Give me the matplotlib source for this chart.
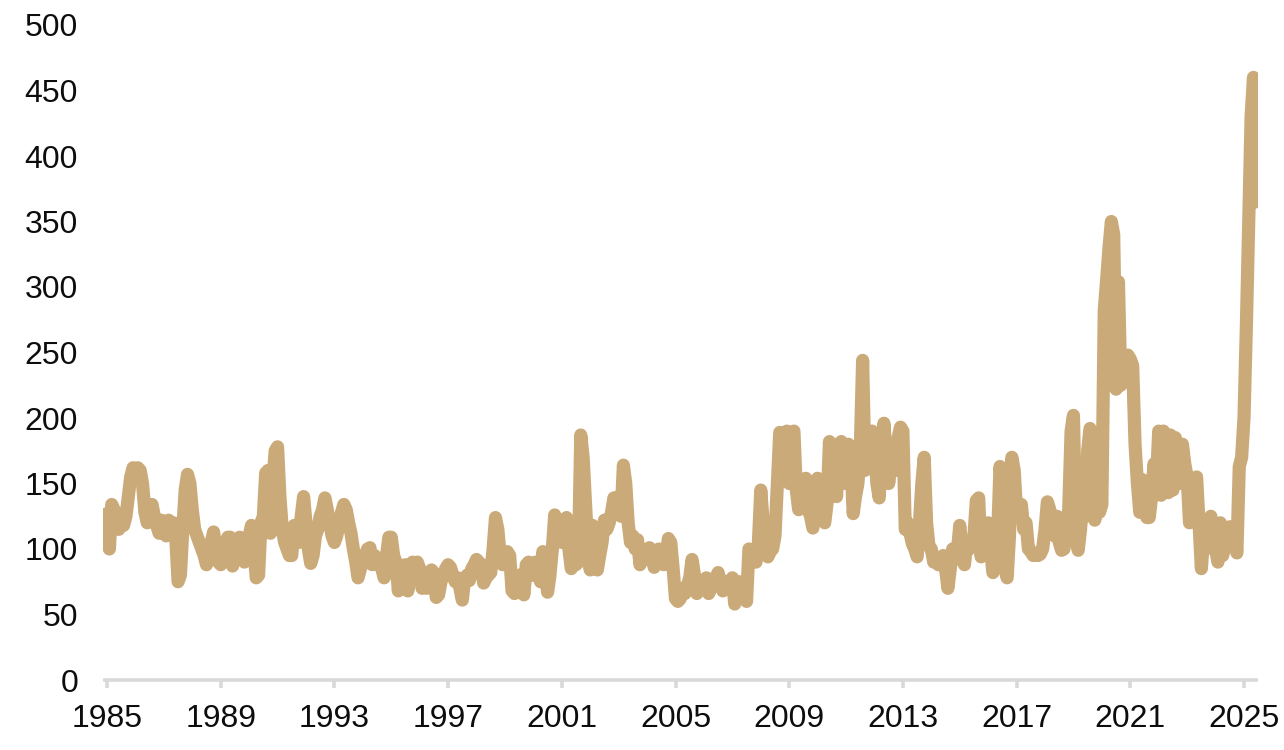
import numpy as np
import matplotlib
matplotlib.use("Agg")
import matplotlib.pyplot as plt

# Monthly values, January 1985 onward
values_1985_1994 = [
    127, 100, 134, 130, 118, 115, 120, 118, 125, 140, 155, 162,
    158, 162, 160, 150, 128, 120, 130, 134, 125, 118, 112, 122,
    120, 110, 122, 115, 120, 110, 75, 80, 115, 145, 157, 150,
    130, 115, 110, 105, 100, 95, 88, 95, 105, 113, 100, 90,
    88, 100, 105, 109, 109, 87, 95, 100, 109, 95, 90, 100,
    110, 118, 100, 78, 80, 120, 125, 158, 160, 112, 150, 175,
    178, 140, 115, 105, 100, 95, 95, 118, 110, 105, 125, 140,
    120, 100, 89, 95, 110, 115, 125, 130, 139, 130, 120, 110,
    105, 110, 120, 128, 134, 130, 120, 112, 100, 90, 78, 85,
    90, 95, 100, 101, 88, 95, 92, 90, 85, 78, 95, 109,
]
values_1995_2004 = [
    109, 95, 90, 68, 85, 70, 88, 68, 80, 90, 88, 90,
    85, 70, 72, 70, 78, 84, 82, 63, 65, 75, 80, 85,
    88, 86, 80, 75, 78, 70, 61, 78, 80, 76, 85, 88,
    92, 90, 88, 74, 78, 80, 82, 100, 124, 115, 95, 88,
    97, 98, 95, 68, 66, 72, 80, 75, 65, 88, 90, 80,
    80, 90, 85, 75, 98, 85, 67, 80, 100, 126, 120, 110,
    105, 118, 124, 100, 85, 92, 88, 90, 187, 170, 135, 100,
    84, 118, 110, 84, 95, 105, 122, 115, 120, 128, 139, 130,
    140, 125, 164, 150, 120, 105, 110, 100, 107, 88, 100, 95,
    92, 101, 95, 86, 92, 100, 95, 88, 95, 108, 105, 85,
]
values_2005_2014 = [
    62, 60, 62, 70, 66, 72, 78, 92, 80, 66, 72, 75,
    72, 78, 66, 70, 75, 78, 82, 75, 68, 72, 75, 70,
    78, 58, 68, 75, 70, 65, 60, 100, 95, 98, 90, 105,
    145, 120, 100, 94, 98, 100, 110, 150, 189, 185, 188, 190,
    150, 185, 190, 145, 130, 140, 135, 154, 130, 125, 116, 140,
    154, 140, 127, 120, 135, 182, 150, 175, 140, 180, 182, 160,
    150, 180, 170, 127, 140, 150, 175, 244, 160, 185, 175, 190,
    185, 150, 139, 175, 196, 170, 150, 165, 175, 160, 185, 193,
    190, 115, 120, 112, 104, 100, 94, 120, 150, 170, 120, 102,
    100, 90, 92, 88, 90, 95, 85, 70, 85, 100, 92, 98,
]
values_2015_2025 = [
    118, 100, 88, 105, 100, 105, 110, 137, 139, 94, 105, 110,
    120, 100, 82, 90, 110, 163, 140, 85, 78, 110, 170, 160,
    128, 125, 134, 115, 120, 100, 98, 95, 97, 95, 96, 100,
    115, 136, 130, 120, 110, 125, 105, 99, 100, 120, 130, 190,
    202, 110, 99, 115, 140, 125, 175, 192, 185, 122, 140, 128,
    134, 282, 305, 330, 350, 340, 222, 304, 225, 235, 240, 248,
    245, 240, 180, 150, 128, 153, 135, 124, 124, 140, 165, 150,
    190, 141, 190, 150, 143, 187, 145, 185, 160, 150, 180, 165,
    155, 120, 130, 145, 155, 120, 85, 110, 100, 110, 125, 110,
    100, 90, 120, 95, 105, 112, 117, 110, 105, 97, 163, 170,
    200, 270, 350, 430, 460, 365,
]

start_year = 1985
tick_years = list(range(1985, 2026, 4))
y_ticks = list(range(0, 501, 50))

values = np.array(values_1985_1994 + values_1995_2004 + values_2005_2014 + values_2015_2025, dtype=float)
dates = start_year + np.arange(len(values)) / 12.0

LINE_COLOR = "#CBAA7A"
AXIS_COLOR = "#D9D9D9"
FONT = "Liberation Sans"

fig = plt.figure(figsize=(12.84, 7.5), dpi=100)
ax = fig.add_axes([103 / 1284, 1 - 680 / 750, (1258 - 103) / 1284, (680 - 25) / 750])

ax.plot(dates, values, color=LINE_COLOR, linewidth=9.5,
        solid_joinstyle="round", solid_capstyle="round")

ax.set_xlim(1985 - 4 / 28.425, 1985 + (1258 - 107) / 28.425)
ax.set_ylim(0, 500)

ax.set_xticks(tick_years)
ax.set_xticklabels([str(y) for y in tick_years])
ax.set_yticks(y_ticks)
ax.set_yticklabels([str(v) for v in y_ticks])

for s in ("top", "right", "left"):
    ax.spines[s].set_visible(False)
ax.spines["bottom"].set_color(AXIS_COLOR)
ax.spines["bottom"].set_linewidth(2.6)
ax.spines["bottom"].set_capstyle("butt")

ax.tick_params(axis="x", direction="out", length=6, width=2.6, color=AXIS_COLOR,
               pad=11, labelsize=23, labelcolor="#0d0d0d")
ax.tick_params(axis="y", length=0, pad=18, labelsize=23, labelcolor="#0d0d0d")
for lab in ax.get_xticklabels() + ax.get_yticklabels():
    lab.set_fontfamily(FONT)

ax.patch.set_alpha(0)
fig.savefig("out.png", dpi=100, facecolor="white")
